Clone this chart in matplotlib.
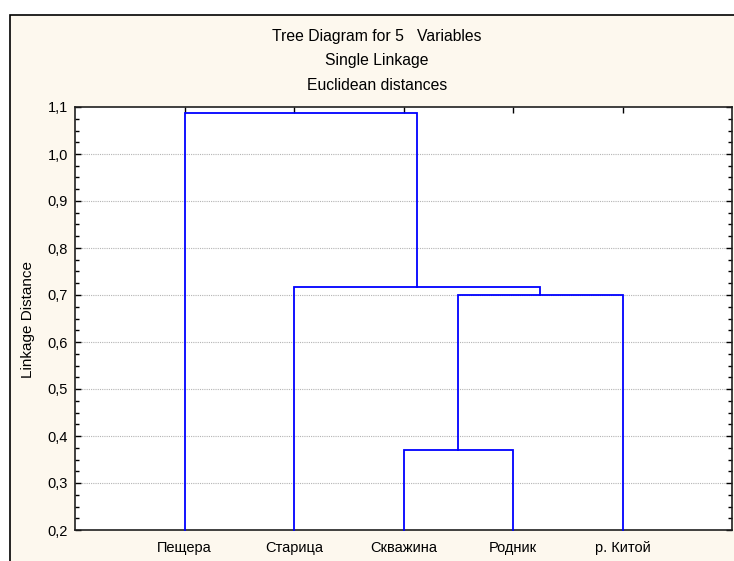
import numpy as np
import matplotlib.pyplot as plt
from matplotlib.patches import Rectangle
from matplotlib.ticker import MultipleLocator, FuncFormatter

plt.rcParams['font.family'] = ['Liberation Sans', 'DejaVu Sans']

leaves = ['Пещера', 'Старица', 'Скважина', 'Родник', 'р. Китой']
# merges: (left node, right node, linkage distance); new nodes numbered from 5
merge_left = [2, 5, 1, 0]
merge_right = [3, 4, 6, 7]
merge_height = [0.37, 0.701, 0.716, 1.087]

titles = ['Tree Diagram for 5   Variables', 'Single Linkage', 'Euclidean distances']

fig = plt.figure(figsize=(7.34, 5.61), dpi=100)
fig.patch.set_facecolor('white')
frame = Rectangle((10 / 734, -0.05), 1.0, 1 - 15 / 561 + 0.05, transform=fig.transFigure,
                  facecolor='#fdf8ee', edgecolor='black', lw=1.2, zorder=-10)
fig.patches.append(frame)

ax = fig.add_axes([75 / 734, 1 - 530 / 561, (732 - 75) / 734, (530 - 107) / 561])
ax.set_facecolor('white')

ymin, ymax = 0.2, 1.1
xs = {i: float(i + 1) for i in range(len(leaves))}
ys = {i: ymin for i in range(len(leaves))}
for k, (a, b, h) in enumerate(zip(merge_left, merge_right, merge_height)):
    node = len(leaves) + k
    ax.plot([xs[a], xs[a], xs[b], xs[b]], [ys[a], h, h, ys[b]],
            color='#0000ff', lw=1.3, solid_joinstyle='miter', zorder=3, clip_on=False)
    xs[node] = (xs[a] + xs[b]) / 2
    ys[node] = h

ax.set_ylim(ymin, ymax)
ax.set_xlim(0, len(leaves) + 1)
ax.set_xticks(range(1, len(leaves) + 1))
ax.set_xticklabels(leaves, fontsize=10.5)
ax.yaxis.set_major_locator(MultipleLocator(0.1))
ax.yaxis.set_minor_locator(MultipleLocator(0.025))
ax.yaxis.set_major_formatter(FuncFormatter(lambda v, p: f'{v:.1f}'.replace('.', ',')))
ax.tick_params(axis='y', which='both', direction='in', left=True, right=True, labelsize=10.5, pad=5)
ax.tick_params(axis='y', which='major', length=4, width=1)
ax.tick_params(axis='y', which='minor', length=3, width=1)
ax.tick_params(axis='x', direction='in', top=True, bottom=False, length=4, width=1, pad=8)

for v in np.arange(0.3, 1.05, 0.1):
    ax.axhline(v, color='#b4b4b4', lw=0.8, linestyle=(0, (1, 1)), zorder=1)

for s in ax.spines.values():
    s.set_linewidth(1.2)
    s.set_color('#202020')

fig.text(28 / 734, 1 - 319 / 561, 'Linkage Distance', rotation=90, ha='center', va='center', fontsize=11)

for i, t in enumerate(titles):
    fig.text(377 / 734, 1 - (36 + 25 * i) / 561, t, ha='center', va='center', fontsize=11.3)

fig.savefig('out.png', dpi=100)
